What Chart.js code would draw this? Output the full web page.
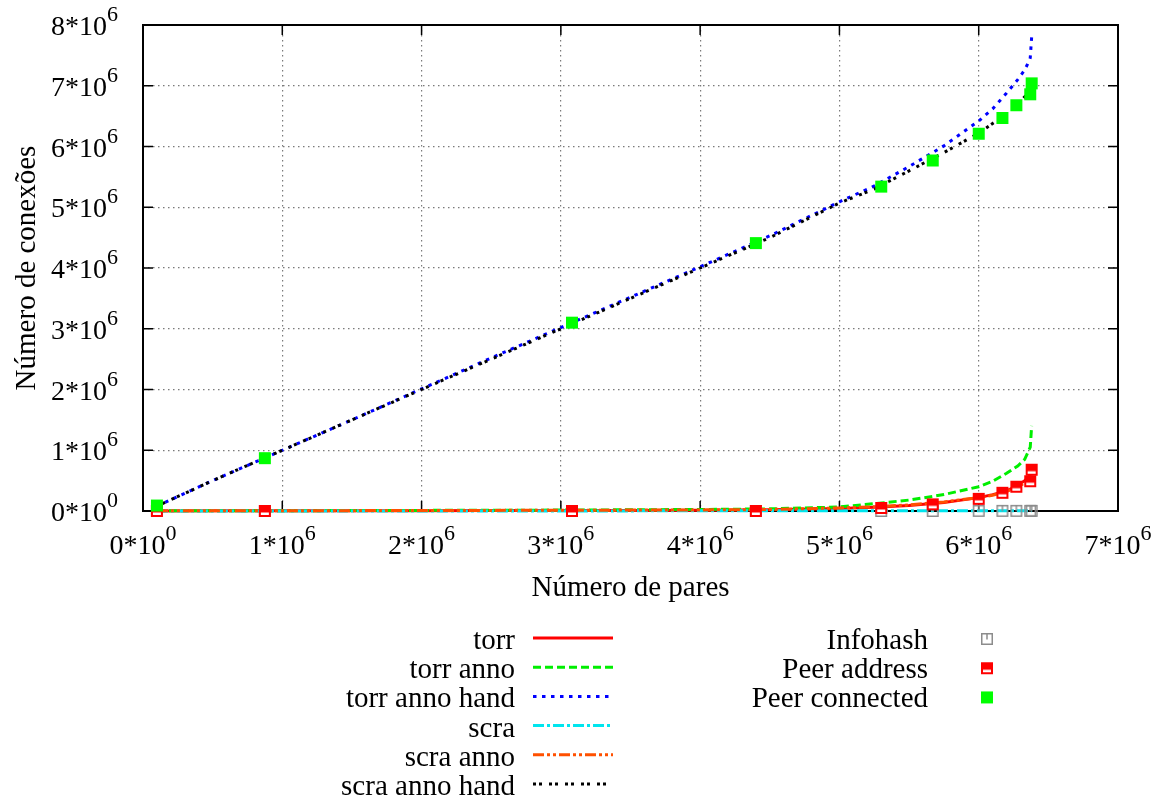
<!DOCTYPE html>
<html>
<head>
<meta charset="utf-8">
<title>Número de conexões x Número de pares</title>
<script src="https://cdn.jsdelivr.net/npm/chart.js@4.4.0/dist/chart.umd.min.js"></script>
<style>
  html, body { margin: 0; padding: 0; background: #fff; }
  #wrap { position: relative; width: 1162px; height: 800px; }
</style>
</head>
<body>
<div id="wrap"><canvas id="chart" width="1162" height="800"></canvas></div>
<script>
/* ---- DATA (values in millions) ---- */
const M = 1e6;

// model curves: x = número de pares
const modelX       = [0.1, 0.5, 1, 1.5, 2, 2.5, 3, 3.5, 4, 4.5, 5, 5.25, 5.5, 5.75, 6.0, 6.1, 6.2, 6.28, 6.33, 6.36, 6.37, 6.38];
const torr         = [0.002, 0.003, 0.004, 0.005, 0.006, 0.007, 0.008, 0.01, 0.012, 0.02, 0.04, 0.06, 0.09, 0.14, 0.22, 0.27, 0.33, 0.42, 0.5, 0.56, 0.6, 0.72];
const torrAnno     = [0.003, 0.004, 0.005, 0.007, 0.01, 0.012, 0.015, 0.02, 0.025, 0.035, 0.066, 0.12, 0.18, 0.27, 0.40, 0.49, 0.62, 0.74, 0.85, 1.0, 1.05, 1.4];
const torrAnnoHand = [0.08, 0.5, 1.0, 1.5, 2.01, 2.52, 3.02, 3.52, 4.02, 4.53, 5.09, 5.35, 5.67, 6.01, 6.42, 6.62, 6.88, 7.1, 7.26, 7.4, 7.46, 7.8];
const scra         = [0.002, 0.002, 0.002, 0.002, 0.002, 0.002, 0.002, 0.002, 0.003, 0.003, 0.003, 0.003, 0.003, 0.003, 0.004, 0.004, 0.004, 0.004, 0.004, 0.004, 0.004, 0.005];
const scraAnno     = [0.003, 0.004, 0.005, 0.006, 0.008, 0.01, 0.012, 0.015, 0.018, 0.025, 0.05, 0.07, 0.1, 0.15, 0.22, 0.26, 0.32, 0.4, 0.46, 0.52, 0.55, 0.62];
const scraAnnoHand = [0.08, 0.5, 1.0, 1.5, 2.0, 2.5, 3.0, 3.5, 4.0, 4.5, 5.07, 5.3, 5.6, 5.9, 6.22, 6.38, 6.54, 6.7, 6.82, 6.9, 6.95, 7.03];

// measured points
const measX          = [0.1, 0.875, 3.08, 4.40, 5.30, 5.67, 6.0, 6.17, 6.27, 6.37, 6.38];
const infohash       = [0, 0, 0, 0, 0, 0, 0.003, 0.003, 0.003, 0.003, 0.003];
const peerAddress    = [0, 0, 0, 0, 0.05, 0.11, 0.2, 0.3, 0.4, 0.49, 0.68];
const peerConnected  = [0.09, 0.87, 3.10, 4.41, 5.34, 5.77, 6.21, 6.47, 6.68, 6.86, 7.04];

// axes
const xTickLabels = ['0*10^0', '1*10^6', '2*10^6', '3*10^6', '4*10^6', '5*10^6', '6*10^6', '7*10^6'];
const yTickLabels = ['0*10^0', '1*10^6', '2*10^6', '3*10^6', '4*10^6', '5*10^6', '6*10^6', '7*10^6', '8*10^6'];
const xTitle = 'Número de pares';
const yTitle = 'Número de conexões';

/* ---- STYLE ---- */
const FONT = '"Liberation Serif", "DejaVu Serif", serif';

function glyph(draw) {
  const c = document.createElement('canvas');
  c.width = 14; c.height = 14;
  draw(c.getContext('2d'));
  return c;
}
const infohashGlyph = glyph(g => {
  g.strokeStyle = '#8c8c8c'; g.lineWidth = 1.5;
  g.strokeRect(1.75, 1.75, 10.5, 10.5);
  g.beginPath(); g.moveTo(7, 1.75); g.lineTo(7, 7.5); g.stroke();
});
const peerAddressGlyph = glyph(g => {
  g.fillStyle = '#ff0000'; g.fillRect(1, 1, 12, 12);
  g.fillStyle = '#ffffff'; g.fillRect(3, 8.5, 8, 2.5);
});
const peerConnectedGlyph = glyph(g => {
  g.fillStyle = '#00ff00'; g.fillRect(1, 1, 12, 12);
});

function lineSet(label, ys, color, dash, order) {
  return {
    label, borderColor: color, backgroundColor: color, borderWidth: 3, borderDash: dash,
    data: modelX.map((x, i) => ({ x: x * M, y: ys[i] * M })),
    pointRadius: 0, tension: 0, fill: false, clip: false, order
  };
}
function pointSet(label, ys, style, order) {
  return {
    label, showLine: false, pointStyle: style, pointRadius: 7,
    data: measX.map((x, i) => ({ x: x * M, y: ys[i] * M })),
    clip: false, order
  };
}

const datasets = [
  lineSet('torr', torr, '#ff0000', [], 20),
  lineSet('torr anno', torrAnno, '#00ee00', [8, 4], 19),
  lineSet('torr anno hand', torrAnnoHand, '#0000ff', [3.5, 5.5], 18),
  lineSet('scra', scra, '#00e5ee', [11, 3, 3, 3], 17),
  lineSet('scra anno', scraAnno, '#ff5000', [11, 3, 3, 3, 3, 3], 16),
  lineSet('scra anno hand', scraAnnoHand, '#000000', [3, 3, 3, 7], 15),
  pointSet('Infohash', infohash, infohashGlyph, 2),
  pointSet('Peer address', peerAddress, peerAddressGlyph, 1),
  pointSet('Peer connected', peerConnected, peerConnectedGlyph, 0)
];

// ---- text with superscript exponent ----
function drawPower(ctx, label, x, y, align) {
  const [base, exp] = label.split('^');
  ctx.font = '28px ' + FONT;
  const wb = ctx.measureText(base).width;
  ctx.font = '22px ' + FONT;
  const we = ctx.measureText(exp).width;
  const total = wb + we;
  let x0 = align === 'right' ? x - total : x - total / 2;
  ctx.textAlign = 'left';
  ctx.textBaseline = 'alphabetic';
  ctx.font = '28px ' + FONT;
  ctx.fillText(base, x0, y);
  ctx.font = '22px ' + FONT;
  ctx.fillText(exp, x0 + wb, y - 14);
}

// ---- gnuplot style frame, ticks, labels, key ----
const gnuplotLook = {
  id: 'gnuplotLook',
  beforeDatasetsDraw(chart) {
    const { ctx, chartArea: a, scales } = chart;
    ctx.save();
    ctx.strokeStyle = '#000';
    ctx.lineWidth = 2;
    ctx.strokeRect(a.left, a.top, a.right - a.left, a.bottom - a.top);
    ctx.lineWidth = 1.5;
    ctx.beginPath();
    scales.x.ticks.forEach(t => {
      const px = scales.x.getPixelForValue(t.value);
      ctx.moveTo(px, a.bottom); ctx.lineTo(px, a.bottom - 10);
      ctx.moveTo(px, a.top); ctx.lineTo(px, a.top + 10);
    });
    scales.y.ticks.forEach(t => {
      const py = scales.y.getPixelForValue(t.value);
      ctx.moveTo(a.left, py); ctx.lineTo(a.left + 10, py);
      ctx.moveTo(a.right, py); ctx.lineTo(a.right - 10, py);
    });
    ctx.stroke();
    ctx.restore();
  },
  afterDraw(chart) {
    const { ctx, chartArea: a, scales } = chart;
    ctx.save();
    ctx.fillStyle = '#000';

    // tick labels
    scales.x.ticks.forEach((t, i) => {
      drawPower(ctx, xTickLabels[i], scales.x.getPixelForValue(t.value), a.bottom + 43, 'center');
    });
    scales.y.ticks.forEach((t, i) => {
      drawPower(ctx, yTickLabels[i], a.left - 25, scales.y.getPixelForValue(t.value) + 10, 'right');
    });

    // axis titles
    ctx.font = '29px ' + FONT;
    ctx.textAlign = 'center';
    ctx.textBaseline = 'alphabetic';
    ctx.fillText(xTitle, (a.left + a.right) / 2, a.bottom + 85);
    ctx.save();
    ctx.translate(35, (a.top + a.bottom) / 2);
    ctx.rotate(-Math.PI / 2);
    ctx.fillText(yTitle, 0, 0);
    ctx.restore();

    // key
    const rowH = 29.2;
    let li = 0, pi = 0;
    chart.data.datasets.forEach(ds => {
      ctx.font = '29px ' + FONT;
      ctx.textAlign = 'right';
      if (ds.showLine === false) {
        const y = 639 + pi * rowH;
        ctx.fillStyle = '#000';
        ctx.fillText(ds.label, 928, y + 10);
        const img = ds.pointStyle;
        ctx.drawImage(img, 987 - img.width / 2, y - img.height / 2);
        pi++;
      } else {
        const y = 638 + li * rowH;
        ctx.fillStyle = '#000';
        ctx.fillText(ds.label, 515, y + 11);
        ctx.strokeStyle = ds.borderColor;
        ctx.lineWidth = ds.borderWidth;
        ctx.setLineDash(ds.borderDash);
        ctx.beginPath();
        ctx.moveTo(533, y); ctx.lineTo(613, y);
        ctx.stroke();
        ctx.setLineDash([]);
        li++;
      }
    });
    ctx.restore();
  }
};

// ---- CHART ----
new Chart(document.getElementById('chart'), {
  type: 'line',
  data: { datasets },
  options: {
    responsive: false,
    animation: false,
    events: [],
    layout: { padding: { left: 143, right: 44, top: 25, bottom: 289 } },
    plugins: { legend: { display: false }, tooltip: { enabled: false } },
    scales: {
      x: {
        type: 'linear', min: 0, max: 7 * M,
        ticks: { display: false, stepSize: M },
        grid: { color: '#7a7a7a', lineWidth: 1.2, drawTicks: false },
        border: { display: false, dash: [1.5, 3.5] }
      },
      y: {
        type: 'linear', min: 0, max: 8 * M,
        ticks: { display: false, stepSize: M },
        grid: { color: '#7a7a7a', lineWidth: 1.2, drawTicks: false },
        border: { display: false, dash: [1.5, 3.5] }
      }
    }
  },
  plugins: [gnuplotLook]
});
</script>
</body>
</html>
